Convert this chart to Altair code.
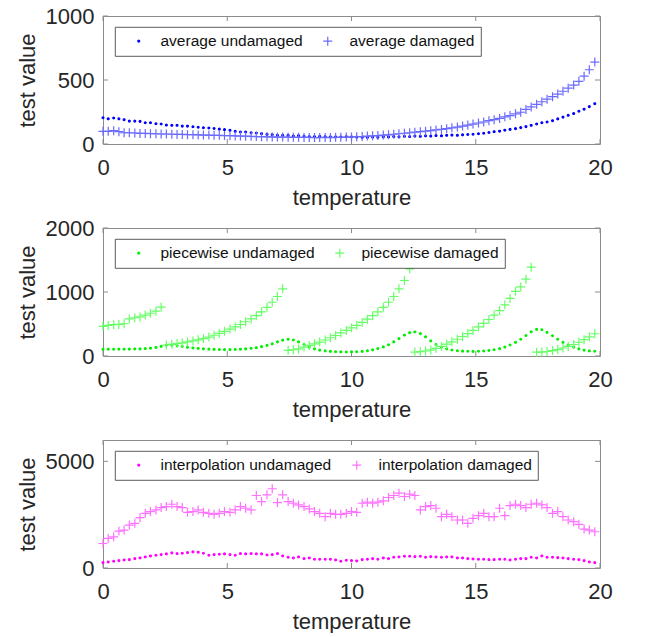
import altair as alt
import pandas as pd

# ---------------- data ----------------
TEMPERATURE = [
    0.00, 0.21, 0.43, 0.64, 0.85, 1.06, 1.28, 1.49, 1.70, 1.91,
    2.13, 2.34, 2.55, 2.77, 2.98, 3.19, 3.40, 3.62, 3.83, 4.04,
    4.26, 4.47, 4.68, 4.89, 5.11, 5.32, 5.53, 5.74, 5.96, 6.17,
    6.38, 6.60, 6.81, 7.02, 7.23, 7.45, 7.66, 7.87, 8.09, 8.30,
    8.51, 8.72, 8.94, 9.15, 9.36, 9.57, 9.79, 10.00, 10.21, 10.43,
    10.64, 10.85, 11.06, 11.28, 11.49, 11.70, 11.91, 12.13, 12.34, 12.55,
    12.77, 12.98, 13.19, 13.40, 13.62, 13.83, 14.04, 14.26, 14.47, 14.68,
    14.89, 15.11, 15.32, 15.53, 15.74, 15.96, 16.17, 16.38, 16.60, 16.81,
    17.02, 17.23, 17.45, 17.66, 17.87, 18.09, 18.30, 18.51, 18.72, 18.94,
    19.15, 19.36, 19.57, 19.79,
]

AVG_UNDAMAGED = [
    205, 197, 203, 197, 190, 179, 179, 177, 166, 166,
    158, 156, 148, 146, 146, 140, 140, 135, 131, 127,
    125, 121, 116, 112, 107, 99, 94, 94, 88, 86,
    81, 75, 73, 68, 68, 68, 62, 65, 60, 57,
    57, 60, 57, 55, 55, 55, 57, 55, 54, 52,
    52, 54, 52, 56, 55, 58, 56, 60, 58, 62,
    60, 64, 62, 66, 64, 68, 70, 68, 72, 74,
    76, 80, 84, 90, 96, 100, 108, 114, 120, 128,
    136, 146, 156, 166, 172, 182, 196, 210, 224, 238,
    256, 272, 292, 315,
]
AVG_DAMAGED = [
    99, 99, 104, 96, 88, 88, 86, 83, 83, 81,
    80, 78, 78, 76, 75, 75, 73, 73, 71, 70,
    70, 68, 68, 66, 65, 63, 62, 61, 60, 58,
    57, 56, 55, 54, 54, 53, 52, 52, 51, 51,
    50, 50, 51, 50, 52, 52, 54, 55, 57, 58,
    62, 64, 66, 70, 72, 76, 80, 84, 88, 92,
    96, 100, 104, 110, 114, 120, 126, 132, 140, 148,
    156, 164, 172, 182, 190, 200, 212, 222, 236, 248,
    270, 290, 310, 330, 350, 370, 390, 412, 436, 460,
    490, 530, 580, 640,
]
PW_UNDAMAGED = [
    104, 106, 105, 108, 106, 108, 110, 112, 116, 122,
    134, 150, 168, 170, 160, 148, 136, 126, 118, 112,
    108, 104, 102, 100, 100, 102, 106, 112, 120, 130,
    146, 166, 190, 220, 248, 262, 250, 220, 180, 140,
    112, 92, 80, 72, 66, 64, 62, 64, 66, 72,
    82, 96, 116, 142, 176, 220, 272, 326, 364, 376,
    350, 300, 236, 180, 140, 112, 94, 82, 76, 74,
    72, 74, 78, 86, 98, 116, 140, 172, 214, 262,
    320, 378, 416, 410, 370, 316, 262, 214, 172, 140,
    112, 92, 80, 74,
]
PW_DAMAGED = [
    463, 478, 489, 494, 504, 580, 598, 610, 640, 668,
    700, 764, 172, 182, 194, 206, 220, 236, 252, 270,
    296, 324, 352, 385, 420, 455, 492, 535, 580, 630,
    690, 760, 840, 930, 1050, 88, 98, 110, 140, 165,
    190, 218, 250, 285, 320, 360, 400, 440, 480, 525,
    575, 630, 690, 760, 840, 930, 1050, 1180, 1362, 62,
    68, 78, 95, 120, 150, 185, 222, 262, 305, 350,
    400, 455, 510, 570, 640, 710, 800, 900, 1010, 1080,
    1200, 1388, 60, 62, 70, 84, 100, 125, 150, 180,
    215, 255, 300, 348,
]
IP_UNDAMAGED = [
    252, 283, 315, 346, 378, 393, 440, 472, 519, 566,
    598, 629, 661, 708, 676, 692, 724, 755, 740, 692,
    598, 629, 645, 661, 629, 598, 676, 661, 676, 661,
    661, 613, 629, 676, 566, 503, 472, 519, 440, 472,
    409, 409, 409, 409, 378, 315, 362, 346, 330, 393,
    409, 440, 409, 472, 440, 503, 519, 550, 550, 535,
    550, 503, 535, 519, 503, 519, 519, 472, 472, 440,
    425, 409, 409, 393, 393, 409, 409, 378, 409, 440,
    440, 503, 472, 566, 503, 503, 488, 472, 440, 409,
    393, 346, 283, 252,
]
IP_DAMAGED = [
    1148, 1384, 1463, 1731, 1778, 2014, 2093, 2360, 2564, 2643,
    2722, 2832, 2879, 2989, 2879, 2832, 2612, 2643, 2722, 2612,
    2564, 2517, 2564, 2643, 2612, 2722, 2879, 2800, 2722, 3398,
    3115, 3430, 3714, 3068, 3430, 3115, 3036, 2958, 2879, 2769,
    2643, 2564, 2407, 2564, 2517, 2517, 2564, 2643, 2612, 3036,
    3084, 3036, 3084, 3147, 3304, 3398, 3509, 3351, 3462, 3398,
    2722, 2879, 2926, 2800, 2407, 2517, 2407, 2250, 2250, 2093,
    2329, 2454, 2564, 2407, 2407, 2800, 2454, 2926, 2989, 2926,
    2832, 2989, 3036, 2958, 2832, 2564, 2643, 2407, 2250, 2171,
    2045, 1825, 1778, 1700,
]

X_TICKS = [0, 5, 10, 15, 20]
PANELS = [
    {"u": AVG_UNDAMAGED, "d": AVG_DAMAGED,
     "names": ["average undamaged", "average damaged"],
     "dot": "#0000ff", "plus": "#6a6aff", "ymax": 1000, "yticks": [0, 500, 1000]},
    {"u": PW_UNDAMAGED, "d": PW_DAMAGED,
     "names": ["piecewise undamaged", "piecewise damaged"],
     "dot": "#00ee00", "plus": "#66ff66", "ymax": 2000, "yticks": [0, 1000, 2000]},
    {"u": IP_UNDAMAGED, "d": IP_DAMAGED,
     "names": ["interpolation undamaged", "interpolation damaged"],
     "dot": "#ff00ff", "plus": "#ff70ff", "ymax": 6000, "yticks": [0, 5000]},
]

# ---------------- style ----------------
FONT = "Liberation Sans"
W, H = 497, 128
TXT = "#262626"
AX = "#8c8c8c"
DOT = "M-0.21,0A0.21,0.21 0 1,0 0.21,0A0.21,0.21 0 1,0 -0.21,0Z"
PLUS = "M-1,0L1,0M0,-1L0,1"


def panel(p):
    n = len(TEMPERATURE)
    df = pd.DataFrame({
        "temperature": TEMPERATURE + TEMPERATURE,
        "value": p["u"] + p["d"],
        "series": [p["names"][0]] * n + [p["names"][1]] * n,
    })
    xs = alt.Scale(domain=[0, 20], nice=False, zero=False)
    ys = alt.Scale(domain=[0, p["ymax"]], nice=False)
    x = alt.X("temperature:Q", scale=xs, axis=alt.Axis(
        values=X_TICKS, format="d", ticks=False, domain=False, grid=False,
        labelFont=FONT, labelFontSize=22, labelColor=TXT, labelPadding=13,
        labelFlush=False, labelOverlap=False,
        title="temperature", titleFont=FONT, titleFontSize=22,
        titleFontWeight="normal", titleColor=TXT, titleBaseline="alphabetic",
        titleX=W / 2, titleY=60, titleAlign="center"))
    y = alt.Y("value:Q", scale=ys, axis=alt.Axis(
        values=p["yticks"], format="d", ticks=False, domain=False, grid=False,
        labelFont=FONT, labelFontSize=22, labelColor=TXT, labelPadding=9,
        labelFlush=False, labelOverlap=False,
        title="test value", titleFont=FONT, titleFontSize=22,
        titleFontWeight="normal", titleColor=TXT, titleBaseline="alphabetic",
        titleX=-69, titleY=H / 2, titleAngle=-90, titleAlign="center"))

    leg = alt.Legend(
        orient="none", legendX=12, legendY=11, direction="horizontal",
        columns=2, title=None, labelFont=FONT, labelFontSize=15.5,
        labelColor="#111111", labelLimit=400, symbolSize=81, symbolStrokeWidth=1.2,
        strokeColor="#333333", fillColor="white", padding=6,
        symbolOffset=10, labelOffset=14, columnPadding=7)
    dom = p["names"]
    points = alt.Chart(df).mark_point(filled=False, size=81, strokeWidth=1.2, opacity=1).encode(
        x=x, y=y,
        color=alt.Color("series:N", scale=alt.Scale(domain=dom, range=[p["dot"], p["plus"]]), legend=leg),
        fill=alt.Fill("series:N", scale=alt.Scale(domain=dom, range=[p["dot"], "transparent"]), legend=leg),
        shape=alt.Shape("series:N", scale=alt.Scale(domain=dom, range=[DOT, PLUS]), legend=leg),
    )

    xt = pd.DataFrame({"temperature": X_TICKS})
    yt = pd.DataFrame({"value": p["yticks"]})
    top_ticks = alt.Chart(xt).mark_rule(color=AX, strokeWidth=1).encode(
        x=x, y=alt.value(0), y2=alt.value(5))
    bot_ticks = alt.Chart(xt).mark_rule(color=AX, strokeWidth=1).encode(
        x=x, y=alt.value(H), y2=alt.value(H - 5))
    left_ticks = alt.Chart(yt).mark_rule(color=AX, strokeWidth=1).encode(
        y=y, x=alt.value(0), x2=alt.value(5))
    right_ticks = alt.Chart(yt).mark_rule(color=AX, strokeWidth=1).encode(
        y=y, x=alt.value(W), x2=alt.value(W - 5))

    return alt.layer(top_ticks, bot_ticks, left_ticks, right_ticks, points).properties(
        width=W, height=H)


chart = alt.vconcat(*[panel(p) for p in PANELS], spacing=84, bounds="flush").resolve_scale(
    x="independent", y="independent", color="independent", fill="independent",
    shape="independent").resolve_legend(
    color="independent", fill="independent", shape="independent").properties(
    padding={"left": 7, "top": -4, "right": 5, "bottom": 0},
    background="white",
).configure_view(stroke=AX, strokeWidth=1).configure_legend(strokeWidth=0.8)

chart.save("out.html", embed_options={"renderer": "svg", "actions": False})
